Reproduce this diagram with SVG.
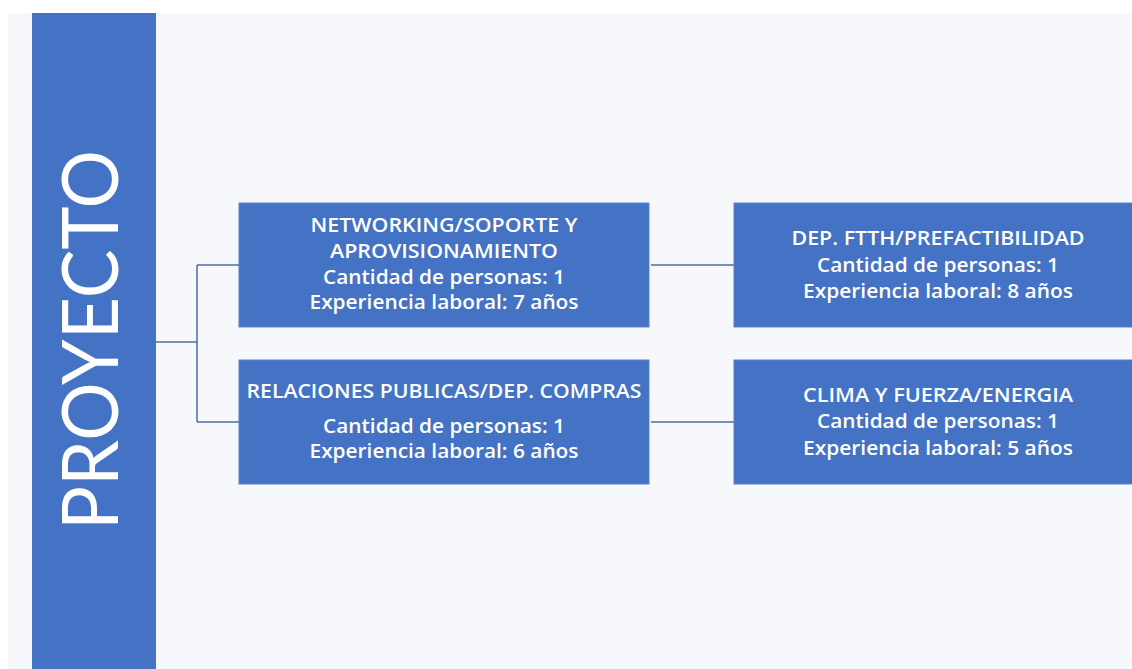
<svg xmlns="http://www.w3.org/2000/svg" width="1132" height="669" viewBox="0 0 1132 669">
<style>
.box{fill:#4472c4;stroke:#5b82c9;stroke-width:1}
.t{font-family:"Open Sans","Liberation Sans",Arial,sans-serif;font-weight:600;font-size:19px;fill:#ffffff;text-anchor:middle}
.c{fill:none;stroke:#4a6ea8;stroke-width:1.5}
</style>
<rect x="0" y="0" width="1132" height="669" fill="#ffffff"/>
<rect x="8" y="13" width="1124" height="656" fill="#f7f8fc"/>
<g id="proyecto">
<rect x="32" y="13" width="124" height="656" fill="#4472c4"/>
<text transform="translate(118,340) rotate(-90)" x="0" y="0" font-family="Lato,'Liberation Sans',sans-serif" font-weight="400" font-size="78" fill="#ffffff" text-anchor="middle" textLength="380" lengthAdjust="spacingAndGlyphs">PROYECTO</text>
</g>
<g id="connectors">
<path class="c" d="M156,342 H197 M197,265 V422 M197,265 H239 M197,422 H239 M651,265 H734 M651,422 H734"/>
</g>
<g id="networking">
<rect class="box" x="239" y="203" width="410" height="124"/>
<text class="t" x="444" y="232" textLength="267" lengthAdjust="spacingAndGlyphs">NETWORKING/SOPORTE Y</text>
<text class="t" x="444" y="258" textLength="228" lengthAdjust="spacingAndGlyphs">APROVISIONAMIENTO</text>
<text class="t" x="444" y="284" textLength="242" lengthAdjust="spacingAndGlyphs">Cantidad de personas: 1</text>
<text class="t" x="444" y="309" textLength="269" lengthAdjust="spacingAndGlyphs">Experiencia laboral: 7 años</text>
</g>
<g id="relaciones">
<rect class="box" x="239" y="360" width="410" height="124"/>
<text class="t" x="444" y="398" textLength="395" lengthAdjust="spacingAndGlyphs">RELACIONES PUBLICAS/DEP. COMPRAS</text>
<text class="t" x="444" y="433" textLength="242" lengthAdjust="spacingAndGlyphs">Cantidad de personas: 1</text>
<text class="t" x="444" y="458" textLength="269" lengthAdjust="spacingAndGlyphs">Experiencia laboral: 6 años</text>
</g>
<g id="ftth">
<rect class="box" x="734" y="203" width="410" height="124"/>
<text class="t" x="938" y="245" textLength="293" lengthAdjust="spacingAndGlyphs">DEP. FTTH/PREFACTIBILIDAD</text>
<text class="t" x="938" y="272" textLength="242" lengthAdjust="spacingAndGlyphs">Cantidad de personas: 1</text>
<text class="t" x="938" y="298" textLength="270" lengthAdjust="spacingAndGlyphs">Experiencia laboral: 8 años</text>
</g>
<g id="clima">
<rect class="box" x="734" y="360" width="410" height="124"/>
<text class="t" x="938" y="402" textLength="270" lengthAdjust="spacingAndGlyphs">CLIMA Y FUERZA/ENERGIA</text>
<text class="t" x="938" y="428" textLength="242" lengthAdjust="spacingAndGlyphs">Cantidad de personas: 1</text>
<text class="t" x="938" y="455" textLength="270" lengthAdjust="spacingAndGlyphs">Experiencia laboral: 5 años</text>
</g>
</svg>
